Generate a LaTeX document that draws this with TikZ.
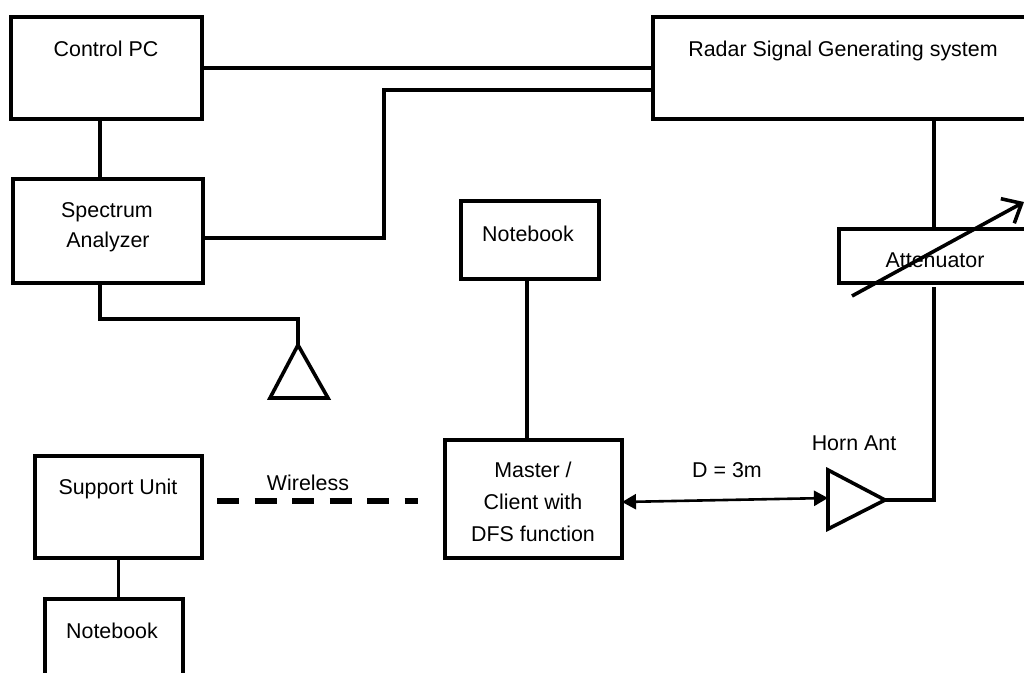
\documentclass[tikz,border=0pt]{standalone}
\usepackage{fontspec}
\setmainfont{Liberation Sans}
\usetikzlibrary{arrows.meta}
\tikzset{
  blockbox/.style={draw, line width=3.6pt, inner sep=0pt, outer sep=0pt},
  boxtext/.style={inner sep=0pt, anchor=base, font=\fontsize{21.4}{25}\selectfont},
  wire/.style={line width=3.6pt},
}

\begin{document}
\begin{tikzpicture}[x=1pt,y=-1pt]
\useasboundingbox (0,0) rectangle (1024,672);
% boxes
\node [blockbox, minimum width=191pt, minimum height=102pt] (ctrl) at (106.5,68) {};
\node [blockbox, minimum width=400pt, minimum height=102pt] (radar) at (853,68) {};
\node [blockbox, minimum width=190pt, minimum height=104pt] (spectrum) at (108,231) {};
\node [blockbox, minimum width=138pt, minimum height=78pt] (topbook) at (530,240) {};
\node [blockbox, minimum width=240pt, minimum height=54pt] (atten) at (959,256) {};
\node [blockbox, minimum width=167pt, minimum height=102pt] (support) at (118.5,507) {};
\node [blockbox, minimum width=138pt, minimum height=110pt] (lowbook) at (114,654) {};
\node [blockbox, minimum width=177pt, minimum height=118pt] (master) at (533.5,499) {};
% texts
\node [boxtext] (ctrltext) at (106,56) {Control PC};
\node [boxtext] (radartext) at (843,56) {Radar Signal Generating system};
\node [boxtext] (spectext) at (107,217) {Spectrum};
\node [boxtext] (analyzertext) at (108,247) {Analyzer};
\node [boxtext] (topbooktext) at (528,241) {Notebook};
\node [boxtext] (attentext) at (935,267) {Attenuator};
\node [boxtext] (supporttext) at (118,494) {Support Unit};
\node [boxtext] (wirelesstext) at (308,490) {Wireless};
\node [boxtext] (mastertext) at (533,477) {Master /};
\node [boxtext] (clienttext) at (533,509) {Client with};
\node [boxtext] (dfstext) at (533,541) {DFS function};
\node [boxtext] (disttext) at (727,477) {D = 3m};
\node [boxtext] (horntext) at (854,450) {Horn Ant};
\node [boxtext] (lowbooktext) at (112,638) {Notebook};
% antennas
\coordinate (rxtop) at (298,345);
\coordinate (rxleft) at (270,398);
\coordinate (rxright) at (328,398);
\draw [wire, line join=miter] (rxtop) -- (rxleft) -- (rxright) -- cycle;
\coordinate (hornup) at (828,470);
\coordinate (horndown) at (828,529);
\coordinate (horntip) at (885,500);
\draw [wire, line join=miter] (hornup) -- (horntip) -- (horndown) -- cycle;
% wiring
\coordinate (radarin1) at (radar.west |- 0,68);
\coordinate (radarin2) at (radar.west |- 0,90);
\coordinate (bend) at (384,90);
\coordinate (attenin) at (934,229);
\coordinate (attenout) at (934,287);
\draw [wire] (ctrl.east |- radarin1) -- (radarin1);
\draw [wire] (spectrum.east |- 0,238) -- (bend |- 0,238) -- (bend) -- (radarin2);
\draw [wire] (ctrl.south -| 100,0) -- (spectrum.north -| 100,0);
\draw [wire] (100,285) -- (100,319) -- (298,319) -- (rxtop);
\draw [wire] (topbook.south -| 527,0) -- (master.north -| 527,0);
\draw [wire] (support.south) -- (lowbook.north -| support.south);
\draw [wire] (radar.south -| attenin) -- (attenin);
\draw [wire] (attenout) -- (934,500) -- (horntip);
\draw [line width=6pt, dash pattern=on 22pt off 15.5pt] (217,501) -- (418,501);
% distance and variable arrow
\draw [line width=2.6pt, {Triangle[length=14pt,width=15pt]}-{Triangle[length=14pt,width=15pt]}] (master.east |- 0,502) -- (hornup |- 0,498);
\draw [wire, -{Straight Barb[length=16pt,width=28pt]}] (852,296) -- (1024,202);
\end{tikzpicture}
\end{document}
